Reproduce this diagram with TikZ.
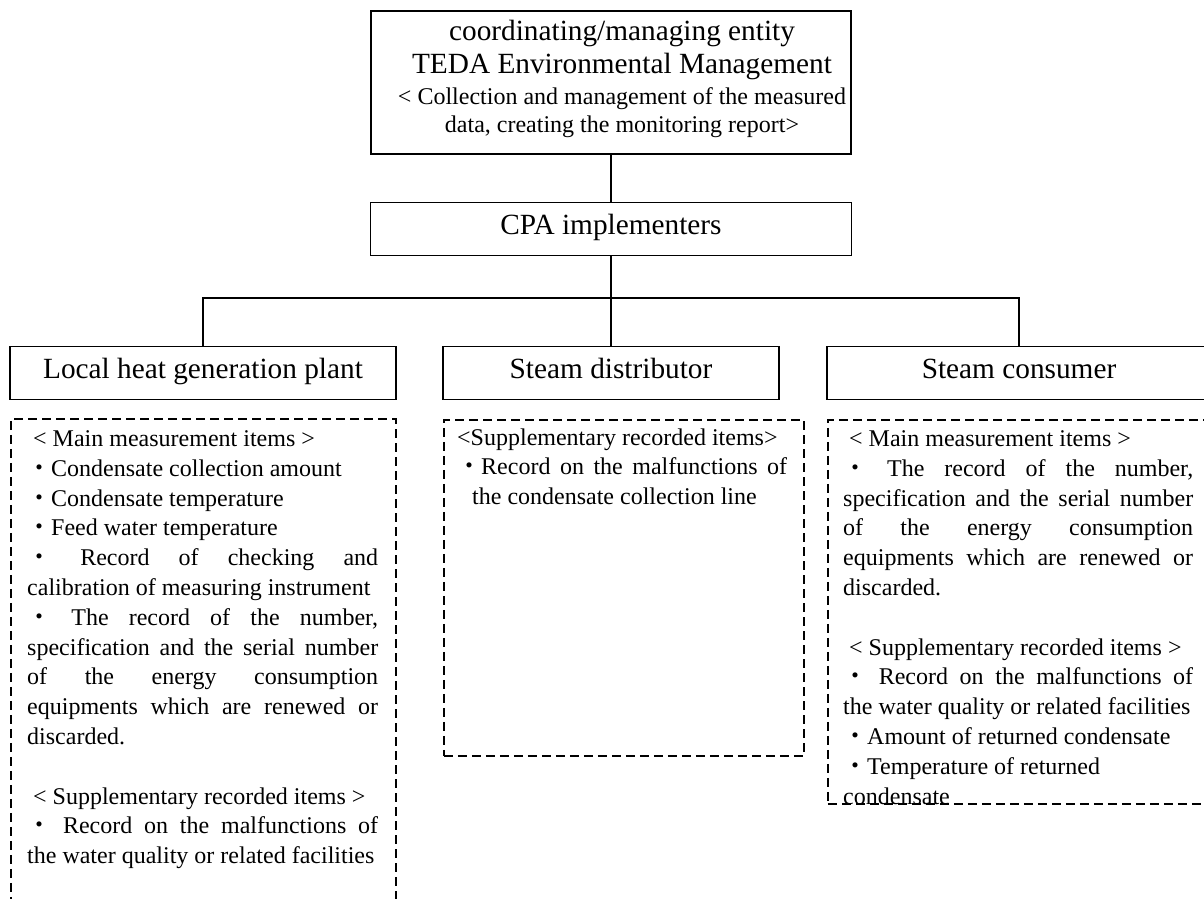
\documentclass[tikz,border=0pt]{standalone}
\usepackage{fontspec}
\setmainfont{Liberation Serif}
\newfontfamily\cjk{Noto Sans CJK JP}
\newcommand\itemdot{{\cjk ・}}
\newcommand\plainspaces{\spaceskip=0pt\xspaceskip=0pt\relax}
\newcommand\fillline[1]{\makebox[\hsize][s]{\plainspaces#1}}

\begin{document}
\begin{tikzpicture}[x=1pt, y=-1pt,
  headbox/.style={draw, line width=1.6pt, font=\fontsize{29.3}{33}\selectfont,
    text height=24pt, text depth=12.5pt, minimum height=53pt},
  dashbox/.style={draw, line width=1.5pt, dash pattern=on 9pt off 5pt, anchor=north west},
  items/.style={anchor=base west, inner sep=0pt, font=\fontsize{24}{29.8}\selectfont},
  link/.style={line width=1.6pt}]
\useasboundingbox (0,0) rectangle (1204,898);
\clip (0,0) rectangle (1204,898);
\node[draw, line width=1.6pt, minimum width=480pt, minimum height=143pt] (top) at (611,82.5) {};
\node[anchor=north, inner sep=0pt, align=center, font=\fontsize{29.3}{33}\selectfont] (toptext) at (622,20)
  {coordinating/managing entity\\
   TEDA Environmental Management\\[-2pt]
   {\fontsize{24}{29}\selectfont < Collection and management of the measured}\\[-5pt]
   {\fontsize{24}{29}\selectfont data, creating the monitoring report>}};
\node[headbox, minimum width=481pt] (cpa) at (611,229) {CPA implementers};
\coordinate (bus) at (611,298);
\node[headbox, minimum width=386pt] (plant) at (203,373) {Local heat generation plant};
\node[headbox, minimum width=336pt] (dist) at (611,373) {Steam distributor};
\node[headbox, minimum width=384pt] (cons) at (1019,373) {Steam consumer};
\draw[link] (top.south) -- (cpa.north);
\draw[link] (cpa.south) -- (dist.north);
\foreach \c in {plant,cons}
  \draw[link] (\c.north) |- (bus);
\node[dashbox, minimum width=385pt, minimum height=530pt] (plantbox) at (10,418) {};
\node[dashbox, minimum width=360pt, minimum height=336pt] (distbox) at (443,419) {};
\node[dashbox, minimum width=420pt, minimum height=384pt] (consbox) at (827,419) {};
\node[items, text width=351pt] (plantitems) at (27,446.5) {\plainspaces
  \hspace*{.25em}< Main measurement items >\\
  \itemdot Condensate collection amount\\
  \itemdot Condensate temperature\\
  \itemdot Feed water temperature\\
  \fillline{\itemdot{} Record of checking and}\\
  calibration of measuring instrument\\
  \fillline{\itemdot{} The record of the number,}\\
  \fillline{specification and the serial number}\\
  \fillline{of the energy consumption}\\
  \fillline{equipments which are renewed or}\\
  discarded.\\
  \mbox{}\\
  \hspace*{.25em}< Supplementary recorded items >\\
  \fillline{\itemdot{} Record on the malfunctions of}\\
  the water quality or related facilities};
\node[items, text width=330pt] (distitems) at (457,445) {\plainspaces
  <Supplementary recorded items>\\
  \fillline{\itemdot Record on the malfunctions of}\\
  \hspace*{15pt}the condensate collection line};
\node[items, text width=350pt] (consitems) at (843,446.5) {\plainspaces
  \hspace*{.25em}< Main measurement items >\\
  \fillline{\itemdot{} The record of the number,}\\
  \fillline{specification and the serial number}\\
  \fillline{of the energy consumption}\\
  \fillline{equipments which are renewed or}\\
  discarded.\\
  \mbox{}\\
  \hspace*{.25em}< Supplementary recorded items >\\
  \fillline{\itemdot{} Record on the malfunctions of}\\
  the water quality or related facilities\\
  \itemdot Amount of returned condensate\\
  \itemdot Temperature of returned\\
  condensate};
\end{tikzpicture}
\end{document}
